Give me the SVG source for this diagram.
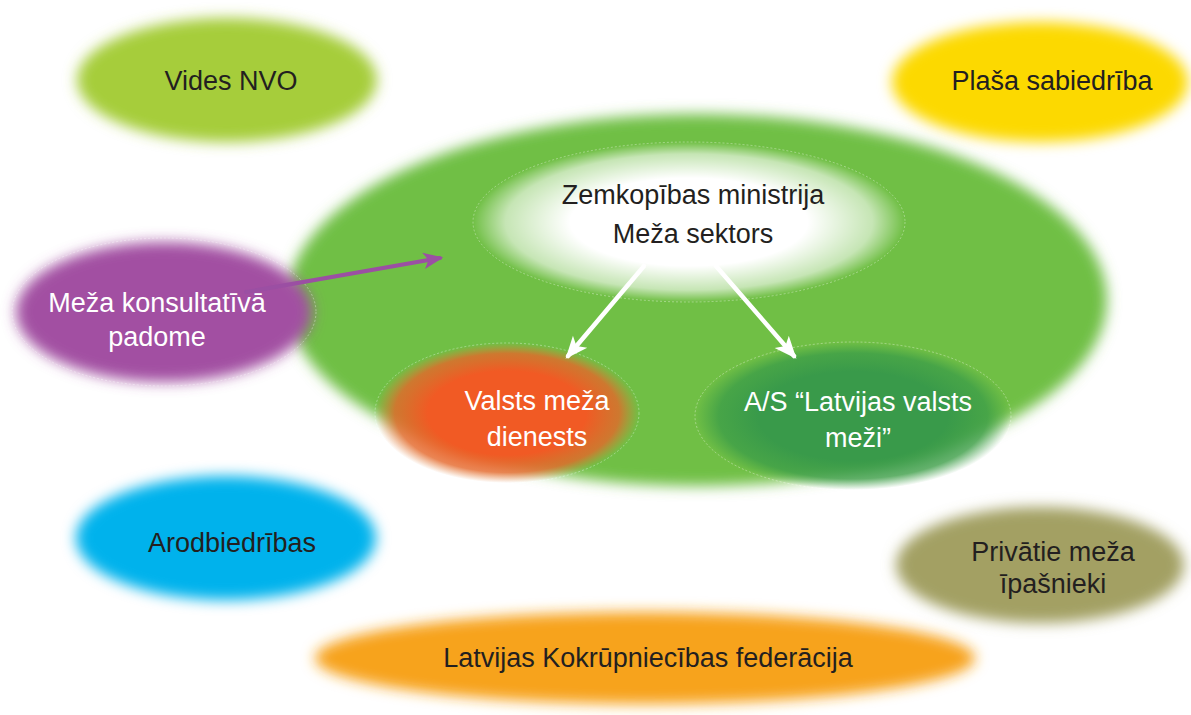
<svg xmlns="http://www.w3.org/2000/svg" width="1191" height="715" viewBox="0 0 1191 715">
<defs>
<filter id="soft" x="-20%" y="-30%" width="140%" height="160%"><feGaussianBlur stdDeviation="7"/></filter>
<radialGradient id="gWhite"><stop offset="0.55" stop-color="#ffffff"/><stop offset="0.85" stop-color="#ffffff" stop-opacity="0.6"/><stop offset="1" stop-color="#ffffff" stop-opacity="0"/></radialGradient>
<radialGradient id="gOrange"><stop offset="0.6" stop-color="#f15a24"/><stop offset="0.85" stop-color="#e5672a" stop-opacity="0.8"/><stop offset="1" stop-color="#e07a30" stop-opacity="0"/></radialGradient>
<radialGradient id="gDark"><stop offset="0.6" stop-color="#399a4a"/><stop offset="0.85" stop-color="#3d9e48" stop-opacity="0.8"/><stop offset="1" stop-color="#3f9f47" stop-opacity="0"/></radialGradient>
<marker id="arW" viewBox="0 0 12 10" refX="10" refY="5" markerWidth="5" markerHeight="5" orient="auto" markerUnits="strokeWidth"><path d="M0,0 L12,5 L0,10 L3,5 z" fill="#ffffff"/></marker>
<marker id="arP" viewBox="0 0 12 10" refX="10" refY="5" markerWidth="5" markerHeight="5" orient="auto" markerUnits="strokeWidth"><path d="M0,0 L12,5 L0,10 L3,5 z" fill="#9b4fa3"/></marker>
</defs>
<style>
.t{font-family:"Liberation Sans",Arial,sans-serif;font-size:27px;text-anchor:middle;fill:#231f20}
.w{fill:#ffffff}
.ol{fill:none;stroke:#ffffff;stroke-opacity:0.45;stroke-width:0.8;stroke-dasharray:2 2}
</style>
<rect width="1191" height="715" fill="#ffffff"/>
<g id="mezaSektorsArea">
<ellipse cx="697" cy="300" rx="410" ry="186" fill="#6fbf44" filter="url(#soft)"/>
</g>
<g id="videsNVO">
<ellipse cx="227" cy="80" rx="150" ry="62" fill="#a6cd3a" filter="url(#soft)"/>
<text class="t" x="231" y="90">Vides NVO</text>
</g>
<g id="plasaSabiedriba">
<ellipse cx="1040" cy="82" rx="148" ry="60" fill="#fcd900" filter="url(#soft)"/>
<text class="t" x="1052" y="90">Plaša sabiedrība</text>
</g>
<g id="padome">
<ellipse cx="164" cy="312" rx="148" ry="70" fill="#a24fa2" filter="url(#soft)"/>
<ellipse class="ol" cx="164" cy="312" rx="152" ry="74"/>
<text class="t w" x="157" y="312">Meža konsultatīvā</text>
<text class="t w" x="157" y="346">padome</text>
</g>
<g id="ministrija">
<ellipse cx="689" cy="222" rx="216" ry="80" fill="url(#gWhite)"/>
<ellipse class="ol" cx="689" cy="222" rx="216" ry="80"/>
<text class="t" x="693" y="204">Zemkopības ministrija</text>
<text class="t" x="693" y="243">Meža sektors</text>
</g>
<g id="valstsMezaDienests">
<ellipse cx="507" cy="413" rx="132" ry="70" fill="url(#gOrange)"/>
<ellipse class="ol" cx="507" cy="413" rx="132" ry="70"/>
<text class="t w" x="537" y="410">Valsts meža</text>
<text class="t w" x="537" y="446">dienests</text>
</g>
<g id="lvm">
<ellipse cx="853" cy="416" rx="158" ry="74" fill="url(#gDark)"/>
<ellipse class="ol" cx="853" cy="416" rx="158" ry="74"/>
<text class="t w" x="858" y="411">A/S “Latvijas valsts</text>
<text class="t w" x="858" y="447">meži”</text>
</g>
<g id="arodbiedribas">
<ellipse cx="226" cy="538" rx="150" ry="62" fill="#00b2ec" filter="url(#soft)"/>
<text class="t" x="232" y="552">Arodbiedrības</text>
</g>
<g id="privatie">
<ellipse cx="1040" cy="565" rx="144" ry="58" fill="#a3a064" filter="url(#soft)"/>
<text class="t" x="1053" y="561">Privātie meža</text>
<text class="t" x="1053" y="593">īpašnieki</text>
</g>
<g id="kokrupniecibas">
<ellipse cx="645" cy="658" rx="330" ry="46" fill="#f7a31b" filter="url(#soft)"/>
<text class="t" x="648" y="667">Latvijas Kokrūpniecības federācija</text>
</g>
<g id="connectors" fill="none" stroke-linecap="round">
<line x1="246" y1="292" x2="440" y2="258" stroke="#9b4fa3" stroke-width="4" marker-end="url(#arP)"/>
<line x1="644" y1="266" x2="568" y2="356" stroke="#ffffff" stroke-width="4.5" marker-end="url(#arW)"/>
<line x1="716" y1="266" x2="794" y2="356" stroke="#ffffff" stroke-width="4.5" marker-end="url(#arW)"/>
</g>
</svg>
